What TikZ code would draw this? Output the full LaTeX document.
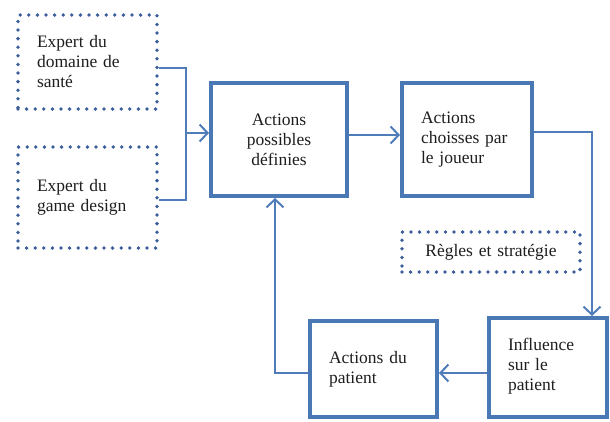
\documentclass[tikz,border=0pt]{standalone}
\usepackage{fontspec}
\setmainfont{Liberation Serif}
\usetikzlibrary{arrows.meta}
\definecolor{boxblue}{RGB}{74,120,180}
\definecolor{dotblue}{RGB}{60,95,155}
\definecolor{lineblue}{RGB}{80,125,185}
\definecolor{txt}{RGB}{30,30,30}
\begin{document}
\begin{tikzpicture}[x=1pt,y=-1pt,
  every node/.style={font=\fontsize{17.5}{20}\selectfont, text=txt, inner sep=0pt},
  solidbox/.style={draw=boxblue, line width=4pt, rectangle},
  dotbox/.style={draw=dotblue, line width=3.8pt, line cap=round, dash pattern=on 0pt off 8.6pt, rectangle},
  conn/.style={draw=lineblue, line width=2pt},
  arr/.style={conn, -{Straight Barb[length=8pt,width=17pt,line width=2pt]}}
]
\useasboundingbox (0,0) rectangle (610,421);
\fill[white] (0,0) rectangle (610,421);

\node[dotbox, minimum width=139pt, minimum height=94pt, text width=101pt, align=left] (e1) at (87.5,62) {Expert du\\domaine de\\santé};
\node[dotbox, minimum width=139pt, minimum height=101pt, text width=101pt, align=left] (e2) at (87.5,197.5) {Expert du\\game design};
\node[solidbox, minimum width=136pt, minimum height=113pt, text width=96pt, align=center] (ap) at (279,139.5) {Actions\\possibles\\définies};
\node[solidbox, minimum width=130pt, minimum height=113pt, text width=92pt, align=left] (ac) at (467,139.5) {Actions\\choisses par\\le joueur};
\node[dotbox, minimum width=178pt, minimum height=40pt, text width=160pt, align=center] (rs) at (491,252) {Règles et stratégie};
\node[solidbox, minimum width=118pt, minimum height=99pt, text width=80pt, align=left] (ip) at (548,367.5) {\raisebox{6pt}{\parbox[b]{80pt}{\raggedright Influence\\sur le\\patient}}};
\node[solidbox, minimum width=127pt, minimum height=96pt, text width=89pt, align=left] (pa) at (373.5,369) {Actions du\\patient};

\coordinate (j1) at (186,68);
\coordinate (j2) at (186,200);
\coordinate (jm) at (186,133);
\draw[conn] (e1.east |- j1) -- (j1) -- (j2) -- (e2.east |- j2);
\draw[arr] (jm) -- (ap.west |- jm);
\draw[arr] (ap.east |- 0,135) -- (ac.west |- 0,135);
\coordinate (k1) at (592,132);
\draw[arr] (ac.east |- k1) -- (k1) -- (k1 |- ip.north);
\draw[arr] (ip.west |- 0,373) -- (pa.east |- 0,373);
\coordinate (m1) at (275,373);
\draw[arr] (pa.west |- m1) -- (m1) -- (m1 |- ap.south);
\end{tikzpicture}
\end{document}
